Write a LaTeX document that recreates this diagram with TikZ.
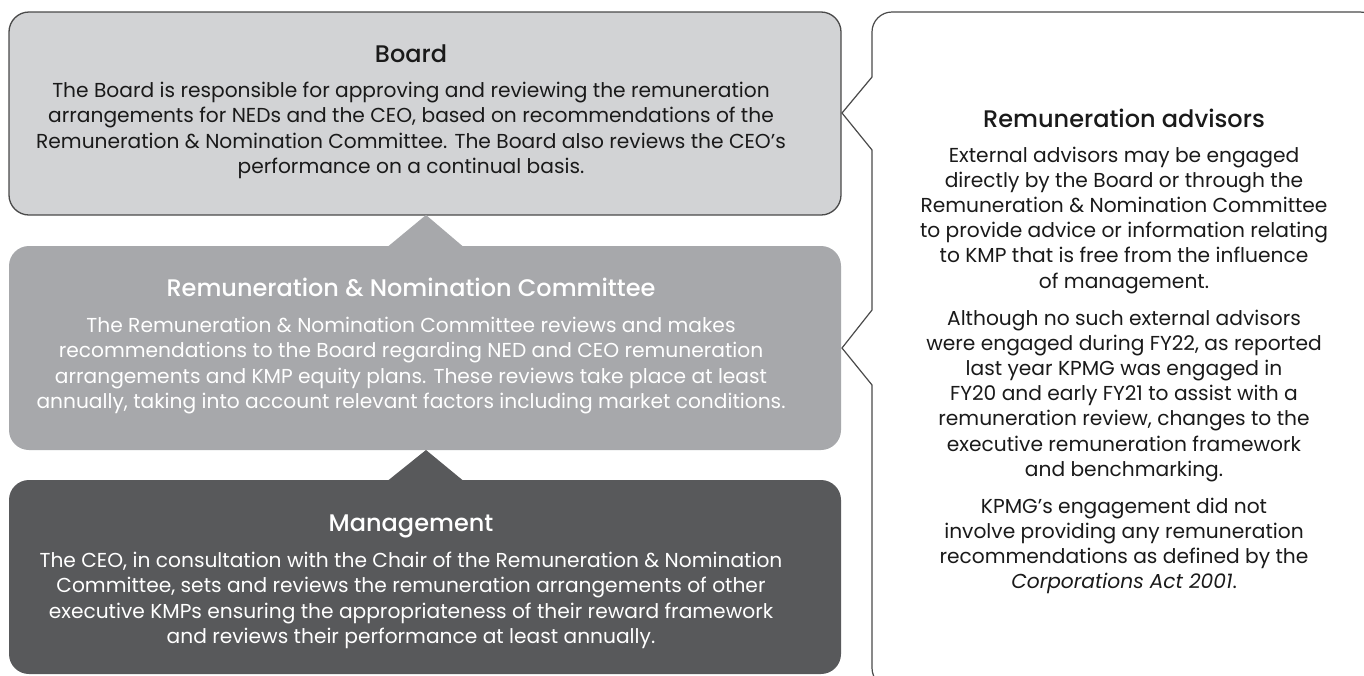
\documentclass[tikz,border=0pt]{standalone}
\usepackage{fontspec}
\setmainfont{Poppins}
\IfFontExistsTF{Poppins Medium}{\newfontfamily\titlefont{Poppins Medium}}{\newfontfamily\titlefont{Poppins}}
\definecolor{boardfill}{HTML}{D2D3D5}
\definecolor{commfill}{HTML}{A7A8AB}
\definecolor{mgmtfill}{HTML}{58595B}
\definecolor{edge}{HTML}{4A4A4A}
\definecolor{ink}{HTML}{1A1A1A}
\tikzset{
  box/.style={rectangle, rounded corners=20pt, minimum width=832pt, inner sep=0pt, outer sep=0pt},
  txt/.style={inner sep=0pt, anchor=base, font=\fontsize{20.2}{24}\selectfont},
  ttl/.style={inner sep=0pt, anchor=base, font=\titlefont\fontsize{24}{28}\selectfont},
  callout/.style={draw=edge, line width=1.2pt, fill=white},
}
\begin{document}
\begin{tikzpicture}[x=1pt, y=-1pt]
\clip (0,0) rectangle (1364,675);
\fill[white] (0,0) rectangle (1364,675);
% boxes
\node[box, fill=boardfill, draw=edge, line width=1.3pt, minimum height=203pt] (board) at (425,113.5) {};
\node[box, fill=commfill, minimum height=204pt] (comm) at (425,348) {};
\node[box, fill=mgmtfill, minimum height=194pt] (mgmt) at (425,577) {};
% pointers
\fill[commfill] (388,246.5) -- (426,215) -- (463,246.5) -- cycle;
\fill[mgmtfill] (388,480.5) -- (426,450) -- (463,480.5) -- cycle;
% callout
\draw[callout] (872,150) -- (842,113) -- (872,77) [rounded corners=20pt] -- (872,12) -- (1380,12) -- (1380,688) -- (872,688) [sharp corners] -- (872,385) -- (842,348) -- (872,310) -- cycle;
% board text
\node[ttl, text=ink] (bt) at (411,62) {Board};
\node[txt, text=ink] (b1) at (411,97) {The Board is responsible for approving and reviewing the remuneration};
\node[txt, text=ink] (b2) at (411,122.5) {arrangements for NEDs and the CEO, based on recommendations of the};
\node[txt, text=ink] (b3) at (411,148) {Remuneration \& Nomination Committee. The Board also reviews the CEO’s};
\node[txt, text=ink] (b4) at (411,173.5) {performance on a continual basis.};
% committee text
\node[ttl, text=white] (ct) at (411,296) {Remuneration \& Nomination Committee};
\node[txt, text=white] (c1) at (411,332) {The Remuneration \& Nomination Committee reviews and makes};
\node[txt, text=white] (c2) at (411,357.5) {recommendations to the Board regarding NED and CEO remuneration};
\node[txt, text=white] (c3) at (411,383) {arrangements and KMP equity plans. These reviews take place at least};
\node[txt, text=white] (c4) at (411,408.5) {annually, taking into account relevant factors including market conditions.};
% management text
\node[ttl, text=white] (mt) at (411,531) {Management};
\node[txt, text=white] (m1) at (411,567) {The CEO, in consultation with the Chair of the Remuneration \& Nomination};
\node[txt, text=white] (m2) at (411,592.5) {Committee, sets and reviews the remuneration arrangements of other};
\node[txt, text=white] (m3) at (411,618) {executive KMPs ensuring the appropriateness of their reward framework};
\node[txt, text=white] (m4) at (411,643.5) {and reviews their performance at least annually.};
% callout text
\node[ttl, text=ink] (rt) at (1124,127) {Remuneration advisors};
\node[txt, text=ink] (r1) at (1124,162) {External advisors may be engaged};
\node[txt, text=ink] (r2) at (1124,187.2) {directly by the Board or through the};
\node[txt, text=ink] (r3) at (1124,212.4) {Remuneration \& Nomination Committee};
\node[txt, text=ink] (r4) at (1124,237.6) {to provide advice or information relating};
\node[txt, text=ink] (r5) at (1124,262.8) {to KMP that is free from the influence};
\node[txt, text=ink] (r6) at (1124,288) {of management.};
\node[txt, text=ink] (s1) at (1124,325) {Although no such external advisors};
\node[txt, text=ink] (s2) at (1124,350.2) {were engaged during FY22, as reported};
\node[txt, text=ink] (s3) at (1124,375.4) {last year KPMG was engaged in};
\node[txt, text=ink] (s4) at (1124,400.6) {FY20 and early FY21 to assist with a};
\node[txt, text=ink] (s5) at (1124,425.8) {remuneration review, changes to the};
\node[txt, text=ink] (s6) at (1124,451) {executive remuneration framework};
\node[txt, text=ink] (s7) at (1124,476.2) {and benchmarking.};
\node[txt, text=ink] (k1) at (1124,513) {KPMG’s engagement did not};
\node[txt, text=ink] (k2) at (1124,538.2) {involve providing any remuneration};
\node[txt, text=ink] (k3) at (1124,563.4) {recommendations as defined by the};
\node[txt, text=ink] (k4) at (1124,588.6) {\textit{Corporations Act 2001}.};
\end{tikzpicture}
\end{document}
